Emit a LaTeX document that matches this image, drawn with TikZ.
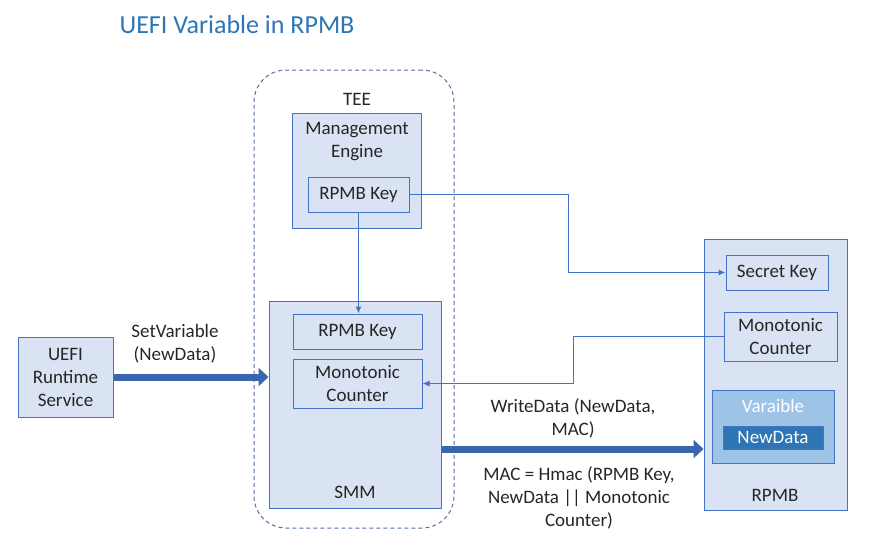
\documentclass[tikz,border=0pt]{standalone}
\usepackage{fontspec}
\setmainfont{Carlito}
\usetikzlibrary{arrows.meta}
\definecolor{boxfill}{HTML}{DAE3F3}
\definecolor{boxline}{HTML}{4472C4}
\definecolor{arrowblue}{HTML}{3B65AF}
\definecolor{teeline}{HTML}{5570A0}
\definecolor{titleblue}{HTML}{2E75B6}
\definecolor{varfill}{HTML}{9DC3E6}
\definecolor{ndfill}{HTML}{2E75B6}
\definecolor{txt}{HTML}{262626}
\newcommand\myfont{\fontsize{19}{23}\selectfont}
\begin{document}
\begin{tikzpicture}[x=1pt,y=-1pt,
  box/.style={draw=boxline, fill=boxfill, line width=1pt, inner sep=0pt, align=center, text=txt, font=\myfont},
  lbl/.style={inner sep=0pt, align=center, text=txt, font=\myfont},
  tee/.style={draw=teeline, line width=1pt, dash pattern=on 4pt off 3pt, rounded corners=32pt, inner sep=0pt},
  thinarrow/.style={draw=boxline, line width=1pt, -{Latex[length=7pt,width=6pt]}},
  bigarrow/.style={draw=arrowblue, line width=7pt, -{Triangle[length=10pt,width=18pt]}}
]
\useasboundingbox (0,0) rectangle (870,546);
\node[inner sep=0pt, text=titleblue, font=\fontsize{26}{30}\selectfont] (title) at (237,25) {UEFI Variable in RPMB};

\node[tee, minimum width=200pt, minimum height=458pt] (tee) at (354,299) {};
\node[lbl] (teelbl) at (357,99) {TEE};

\node[box, minimum width=129pt, minimum height=115pt] (me) at (356.5,170.5) {};
\node[lbl] (melbl) at (357,142) {Management\\Engine};
\node[box, minimum width=101pt, minimum height=35pt] (mekey) at (358.5,194.5) {RPMB Key};

\node[box, minimum width=172pt, minimum height=207pt] (smm) at (355,404.5) {};
\node[lbl] (smmlbl) at (355,492) {SMM};
\node[box, minimum width=129pt, minimum height=35pt] (smmkey) at (357.5,331.5) {RPMB Key};
\node[box, minimum width=129pt, minimum height=49pt] (smmcount) at (357.5,383.5) {Monotonic\\Counter};

\node[box, minimum width=95pt, minimum height=80pt] (uefi) at (65.5,377) {UEFI\\Runtime\\Service};

\node[box, minimum width=143pt, minimum height=271pt] (rpmb) at (775.5,374.5) {};
\node[lbl] (rpmblbl) at (775,495) {RPMB};
\node[box, minimum width=102pt, minimum height=35pt] (seckey) at (777,272.5) {Secret Key};
\node[box, minimum width=113pt, minimum height=49pt] (rcount) at (780.5,336.5) {Monotonic\\Counter};
\node[box, fill=varfill, minimum width=122pt, minimum height=73pt] (var) at (773,426.5) {};
\node[lbl, text=white] (varlbl) at (773,406) {Varaible};
\node[box, fill=ndfill, text=white, minimum width=100pt, minimum height=23pt] (newdata) at (773,437.5) {NewData};

\coordinate (c1) at (568,0);
\coordinate (c2) at (573,0);
\coordinate (c3) at (0,449);

\draw[thinarrow] (mekey.south) -- (mekey.south |- smmkey.north);
\draw[thinarrow] (mekey.east) -- (mekey.east -| c1) |- (seckey.west);
\draw[thinarrow] (rcount.west) -- (rcount.west -| c2) |- (smmcount.east);

\draw[bigarrow] (uefi.east) -- (uefi.east -| smm.west);
\draw[bigarrow] (smm.east |- c3) -- (rpmb.west |- c3);

\node[lbl] (setvar) at (175,344) {SetVariable\\(NewData)};
\node[lbl] (write) at (573,418) {WriteData (NewData,\\MAC)};
\node[lbl] (mac) at (579,498) {MAC = Hmac (RPMB Key,\\NewData || Monotonic\\Counter)};
\end{tikzpicture}
\end{document}
